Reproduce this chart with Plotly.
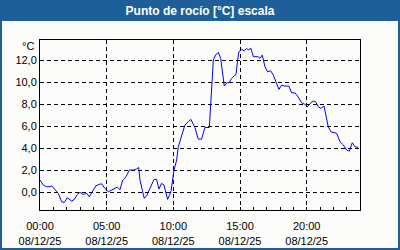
import plotly.graph_objects as go
import datetime as dt

# hours after 2025-12-08 00:00 and dew point values (°C)
hours = [0.0, 0.25, 0.5, 0.75, 0.87, 1.12, 1.37, 1.62, 1.82, 2.05, 2.37, 2.57, 2.8, 3.0,
         3.25, 3.5, 3.7, 3.95, 4.2, 4.45, 4.62, 4.87, 5.12, 5.37, 5.62, 5.8, 6.0, 6.2,
         6.45, 6.7, 7.0, 7.25, 7.4, 7.5, 7.7, 7.82, 8.0, 8.25, 8.55, 8.75, 8.92, 9.12,
         9.3, 9.57, 9.82, 10.05, 10.25, 10.37, 10.57, 10.75, 10.87, 11.12, 11.32, 11.62,
         11.87, 12.12, 12.37, 12.7, 12.8, 13.0, 13.17, 13.37, 13.55, 13.67, 13.82, 14.0,
         14.17, 14.37, 14.7, 14.82, 14.92, 15.12, 15.3, 15.5, 15.62, 15.82, 16.0, 16.37,
         16.5, 16.67, 16.87, 17.07, 17.3, 17.5, 17.7, 17.92, 18.12, 18.37, 18.67, 18.87,
         19.12, 19.32, 19.62, 19.87, 20.07, 20.32, 20.5, 20.67, 20.87, 21.07, 21.3, 21.42,
         21.62, 21.82, 22.0, 22.25, 22.5, 22.75, 23.0, 23.2, 23.42, 23.62, 23.87]
values = [1.12, 0.66, 0.51, 0.51, 0.6, 0.21, -0.09, -0.85, -0.91, -0.49, -0.79, -0.64, -0.18, 0.0,
          -0.18, -0.09, -0.4, 0.12, 0.6, 0.73, 0.78, 0.36, 0.06, 0.21, 0.36, 0.48, 0.24, 1.12,
          1.42, 2.03, 2.03, 2.12, 2.27, 1.12, 0.06, -0.55, -0.3, 0.36, 1.18, 1.18, 0.3, 0.82,
          0.66, -0.64, 0.06, 2.03, 2.94, 4.15, 4.9, 5.51, 6.12, 6.42, 6.63, 5.9,
          4.84, 4.84, 5.9, 5.9, 8.24, 12.03, 12.48, 12.73, 12.18, 11.12, 9.66, 9.96,
          9.96, 10.36, 10.73, 12.03, 12.78, 13.0, 12.87, 13.09, 12.94, 13.09, 12.33, 12.33,
          12.18, 12.48, 11.42, 10.96, 11.05, 10.66, 10.05, 9.36, 9.75, 9.66, 9.66, 9.05,
          9.05, 8.75, 8.15, 8.0, 7.78, 8.15, 8.3, 8.24, 7.78, 7.64, 7.85, 7.03,
          5.96, 5.51, 5.42, 5.36, 4.6, 4.3, 3.85, 3.75, 4.51, 4.15, 4.09]

y_ticks = [0, 2, 4, 6, 8, 10, 12]
title_text = "Punto de rocío [°C] escala"
unit_text = "°C"

base = dt.datetime(2025, 12, 8)
times = [base + dt.timedelta(hours=h) for h in hours]

BLUE = "#1f5f99"
FONT = "Liberation Sans"

fig = go.Figure()
fig.add_trace(go.Scatter(x=times, y=values, mode="lines",
                         line=dict(color="#0000ff", width=1), hoverinfo="skip"))

fig.update_layout(
    width=400, height=250,
    margin=dict(l=40, r=40, t=40, b=40),
    paper_bgcolor=BLUE,
    plot_bgcolor="#fcfdfb",
    showlegend=False,
    separators=",.",
    font=dict(family=FONT, size=11, color="black"),
    title=dict(text="<b>" + title_text + "</b>", x=0.5, xanchor="center",
               y=1 - 10.5 / 250, yanchor="middle", yref="container",
               font=dict(family=FONT, size=12, color="white")),
    shapes=[dict(type="rect", xref="paper", yref="paper", layer="below",
                 x0=(2 - 40) / 320, x1=(398 - 40) / 320,
                 y0=(210 - 248) / 170, y1=(210 - 21) / 170,
                 fillcolor="#fcfdfb", line=dict(width=0))],
    annotations=[dict(text=unit_text, xref="paper", yref="paper",
                      x=-4 / 320, y=(210 - 46) / 170, xanchor="right", yanchor="middle",
                      showarrow=False, font=dict(family=FONT, size=11, color="black"))],
)

fig.update_xaxes(
    type="date",
    range=[base, base + dt.timedelta(hours=24)],
    tick0=base, dtick=5 * 3600 * 1000,
    tickformat="%H:%M<br>%d/%m/%y",
    ticks="inside", ticklen=3, tickcolor="black",
    ticklabelstandoff=6, automargin=False,
    showgrid=True, gridcolor="black", griddash="4px,3px", gridwidth=1,
    showline=True, linecolor="black", linewidth=1, mirror=True,
    minor=dict(dtick=3600 * 1000, ticks="inside", ticklen=3, tickcolor="black", showgrid=False),
    tickfont=dict(family=FONT, size=11, color="black"),
    zeroline=False,
)
fig.update_yaxes(
    range=[-1.6, 13.85],
    tickvals=y_ticks, tickformat=".1f", automargin=False,
    showgrid=True, gridcolor="black", griddash="4px,3px", gridwidth=1,
    showline=True, linecolor="black", linewidth=1, mirror=True,
    ticks="", zeroline=False,
    tickfont=dict(family=FONT, size=11, color="black"),
)

fig.write_html("out.html")
